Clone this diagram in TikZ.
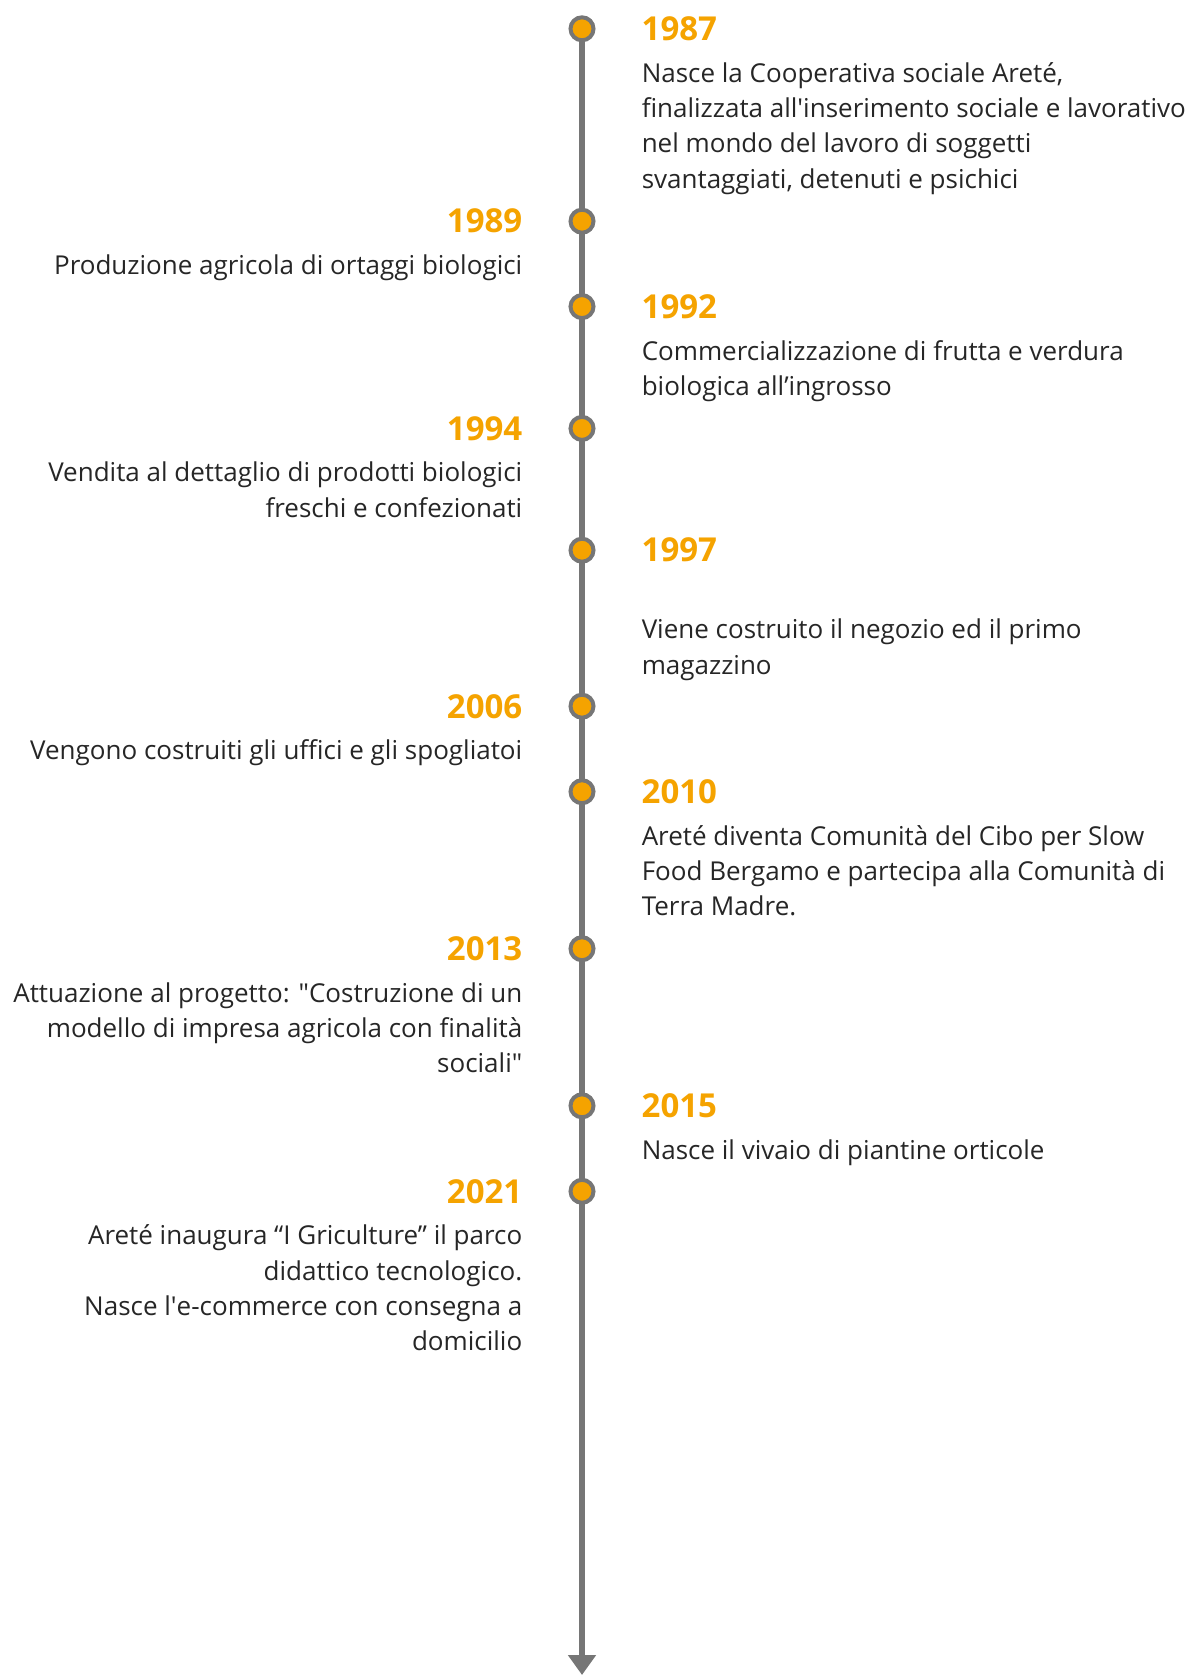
\documentclass[tikz,border=0pt]{standalone}
\usepackage{fontspec}
\setmainfont{Open Sans}
\usetikzlibrary{positioning,arrows.meta,backgrounds}
\definecolor{linegray}{HTML}{767676}
\definecolor{yearorange}{HTML}{F5A300}
\definecolor{textgray}{HTML}{262626}
\tikzset{
  dot/.style={circle,draw=linegray,line width=4pt,fill=yearorange,minimum size=23pt,inner sep=0pt},
  year/.style={text=yearorange,font=\fontsize{33}{38}\selectfont\bfseries,inner sep=0pt},
  eventR/.style={text=textgray,font=\fontsize{26}{35.3}\selectfont,inner sep=0pt,align=left},
  eventL/.style={text=textgray,font=\fontsize{26}{35.3}\selectfont,inner sep=0pt,align=right},
}

\begin{document}
\begin{tikzpicture}[x=1pt,y=1pt]
\useasboundingbox (0,0) rectangle (1187,-1675);
\foreach \yr/\y in {87/28.8,89/221.2,92/306.6,94/428.4,97/550.2,06/706.2,10/791.7,13/948.7,15/1105.8,21/1191.3}
  \node[dot] (d\yr) at (582,-\y) {};
\coordinate (end) at (582,-1675);
\begin{pgfonlayer}{background}
\draw[linegray,line width=5.5pt,-{Triangle[width=27pt,length=20pt]}] (d87.center) -- (end);
\end{pgfonlayer}

% right side
\node[year,right=46pt of d87,anchor=west] (y87) {1987};
\node[eventR,below right=19pt and 50pt of d87] (t87) {\strut Nasce la Cooperativa sociale Areté,\\finalizzata all\textquotesingle inserimento sociale e lavorativo\\nel mondo del lavoro di soggetti\\svantaggiati, detenuti e psichici};
\node[year,right=46pt of d92,anchor=west] (y92) {1992};
\node[eventR,below right=19pt and 50pt of d92] (t92) {\strut Commercializzazione di frutta e verdura\\biologica all’ingrosso};
\node[year,right=46pt of d97,anchor=west] (y97) {1997};
\node[eventR,below right=19pt and 50pt of d97] (t97) {\strut\\Viene costruito il negozio ed il primo\\magazzino};
\node[year,right=46pt of d10,anchor=west] (y10) {2010};
\node[eventR,below right=19pt and 50pt of d10] (t10) {\strut Areté diventa Comunità del Cibo per Slow\\Food Bergamo e partecipa alla Comunità di\\Terra Madre.};
\node[year,right=46pt of d15,anchor=west] (y15) {2015};
\node[eventR,below right=19pt and 50pt of d15] (t15) {\strut Nasce il vivaio di piantine orticole};

% left side
\node[year,left=46pt of d89,anchor=east] (y89) {1989};
\node[eventL,below left=19pt and 50pt of d89] (t89) {\strut Produzione agricola di ortaggi biologici};
\node[year,left=46pt of d94,anchor=east] (y94) {1994};
\node[eventL,below left=19pt and 50pt of d94] (t94) {\strut Vendita al dettaglio di prodotti biologici\\freschi e confezionati};
\node[year,left=46pt of d06,anchor=east] (y06) {2006};
\node[eventL,below left=19pt and 50pt of d06] (t06) {\strut Vengono costruiti gli uffici e gli spogliatoi};
\node[year,left=46pt of d13,anchor=east] (y13) {2013};
\node[eventL,below left=19pt and 50pt of d13] (t13) {\strut Attuazione al progetto: \textquotedbl Costruzione di un\\modello di impresa agricola con finalità\\sociali\textquotedbl};
\node[year,left=46pt of d21,anchor=east] (y21) {2021};
\node[eventL,below left=19pt and 50pt of d21] (t21) {\strut Areté inaugura “I Griculture” il parco\\didattico tecnologico.\\Nasce l\textquotesingle e-commerce con consegna a\\domicilio};
\end{tikzpicture}
\end{document}
